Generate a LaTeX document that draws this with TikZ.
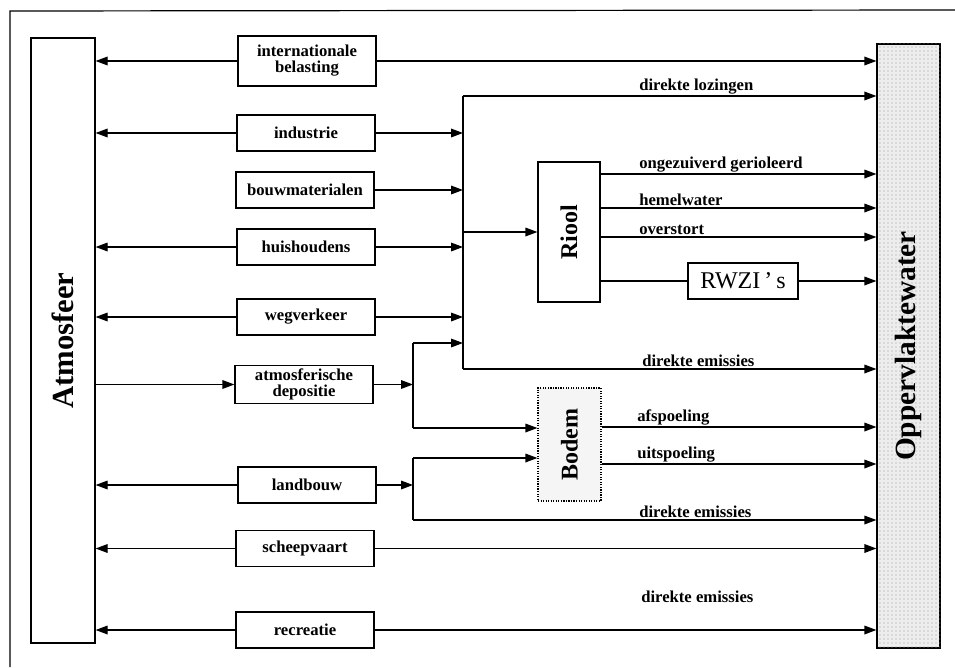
\documentclass[tikz,border=0pt]{standalone}
\usepackage{fontspec}
\setmainfont{Liberation Serif}
\usetikzlibrary{arrows.meta,patterns}

\tikzset{
  bron/.style={draw, line width=0.9pt, minimum width=103.5pt,
    minimum height=27pt, align=center, inner sep=1pt,
    font=\fontsize{12.5}{12}\selectfont\bfseries},
  vak/.style={draw, line width=0.9pt, inner sep=0pt},
  stroom/.style={line width=0.9pt, -{Triangle[length=9pt,width=6.5pt]}},
  lijn/.style={line width=0.9pt},
  lbl/.style={anchor=south west, inner sep=1.5pt,
    font=\fontsize{12.5}{13}\selectfont\bfseries},
}

\begin{document}
\begin{tikzpicture}[x=0.75pt,y=-0.75pt]
\useasboundingbox (0,0) rectangle (955,667);

% Open frame round the scheme.
\draw[lijn] (10,667) -- (10,11) -- (955,10);

% The two compartments at the sides.
\node[vak, minimum width=48pt, minimum height=453.75pt] (atm) at (63,340.5)
  {\rotatebox{90}{\fontsize{23}{24}\selectfont\bfseries Atmosfeer}};
\node[vak, minimum width=47.25pt, minimum height=453pt, fill=black!7,
  postaction={pattern=dots, pattern color=black!40}] (opp) at (908.5,346)
  {\rotatebox{90}{\fontsize{22}{24}\selectfont\bfseries Oppervlaktewater}};

% Sources.
\node[bron, minimum height=37.5pt] (intl) at (307,61) {internationale\\belasting};
\node[bron] (ind) at (306,133) {industrie};
\node[bron] (bouw) at (305,190) {bouwmaterialen};
\node[bron] (huis) at (306,247) {huishoudens};
\node[bron] (weg) at (306,317) {wegverkeer};
\node[bron, minimum height=28pt] (depo) at (304,384.5) {atmosferische\\depositie};
\node[bron] (land) at (307,485) {landbouw};
\node[bron] (scheep) at (305,548.5) {scheepvaart};
\node[bron] (recr) at (305,630) {recreatie};

% Riool, RWZI's and Bodem.
\node[vak, minimum width=46.5pt, minimum height=105pt] (riool) at (569,232)
  {\rotatebox{90}{\fontsize{18}{20}\selectfont\bfseries Riool}};
\node[vak, minimum width=82.5pt, minimum height=27pt,
  font=\fontsize{18}{20}\selectfont] (rwzi) at (743,281) {RWZI\,'\,s};
\node[vak, densely dotted, fill=black!4, minimum width=47.25pt,
  minimum height=84.75pt] (bodem) at (569.5,444.5)
  {\rotatebox{90}{\fontsize{18}{20}\selectfont\bfseries Bodem}};

% Collector line and the two splits.
\coordinate (kTop) at (463,96);
\coordinate (kBot) at (463,369);
\coordinate (dUp) at (413,343);
\coordinate (dDn) at (413,428);
\coordinate (lUp) at (413,458);
\coordinate (lDn) at (413,520);
\draw[lijn] (kTop) -- (kBot);
\draw[lijn] (dUp) -- (dDn);
\draw[lijn] (lUp) -- (lDn);

% Emissions to the atmosphere, and deposition back.
\foreach \n in {intl,ind,huis,weg,land,scheep,recr}
  \draw[stroom] (\n) -- (\n -| atm.east);
\draw[stroom] (atm.east |- depo) -- (depo);

% Into the collector, the sewer and the soil.
\foreach \n in {ind,bouw,huis,weg}
  \draw[stroom] (\n) -- (\n -| kTop);
\draw[stroom] (depo) -- (depo -| dUp);
\draw[stroom] (dUp) -- (dUp -| kTop);
\draw[stroom] (dDn) -- (dDn -| bodem.west);
\draw[stroom] (kTop |- riool) -- (riool);
\draw[stroom] (land) -- (land -| lUp);
\draw[stroom] (lUp) -- (lUp -| bodem.west);

% Out of the sewer.
\path (riool.east) ++(0,-58) coordinate (r1) ++(0,34) coordinate (r2)
  ++(0,29) coordinate (r3);
\draw[lijn] (riool.east |- rwzi) -- (rwzi);

% Out of the soil.
\path (bodem.east) ++(0,-17.5) coordinate (b1) ++(0,37) coordinate (b2);

% To the surface water.
\foreach \c in {intl,kTop,r1,r2,r3,rwzi,kBot,b1,b2,lDn,scheep,recr}
  \draw[stroom] (\c) -- (\c -| opp.west);

% Labels of the flows.
\node[lbl] (tLoz) at (637,96) {direkte lozingen};
\node[lbl] (tOng) at (637,174) {ongezuiverd gerioleerd};
\node[lbl] (tHem) at (637,208) {hemelwater};
\node[lbl] (tOve) at (637,237) {overstort};
\node[lbl] (tEm1) at (640,369) {direkte emissies};
\node[lbl] (tAfs) at (635,427) {afspoeling};
\node[lbl] (tUit) at (635,464) {uitspoeling};
\node[lbl] (tEm2) at (637,520) {direkte emissies};
\node[lbl, anchor=west] (tEm3) at (639,597) {direkte emissies};

\end{tikzpicture}
\end{document}
